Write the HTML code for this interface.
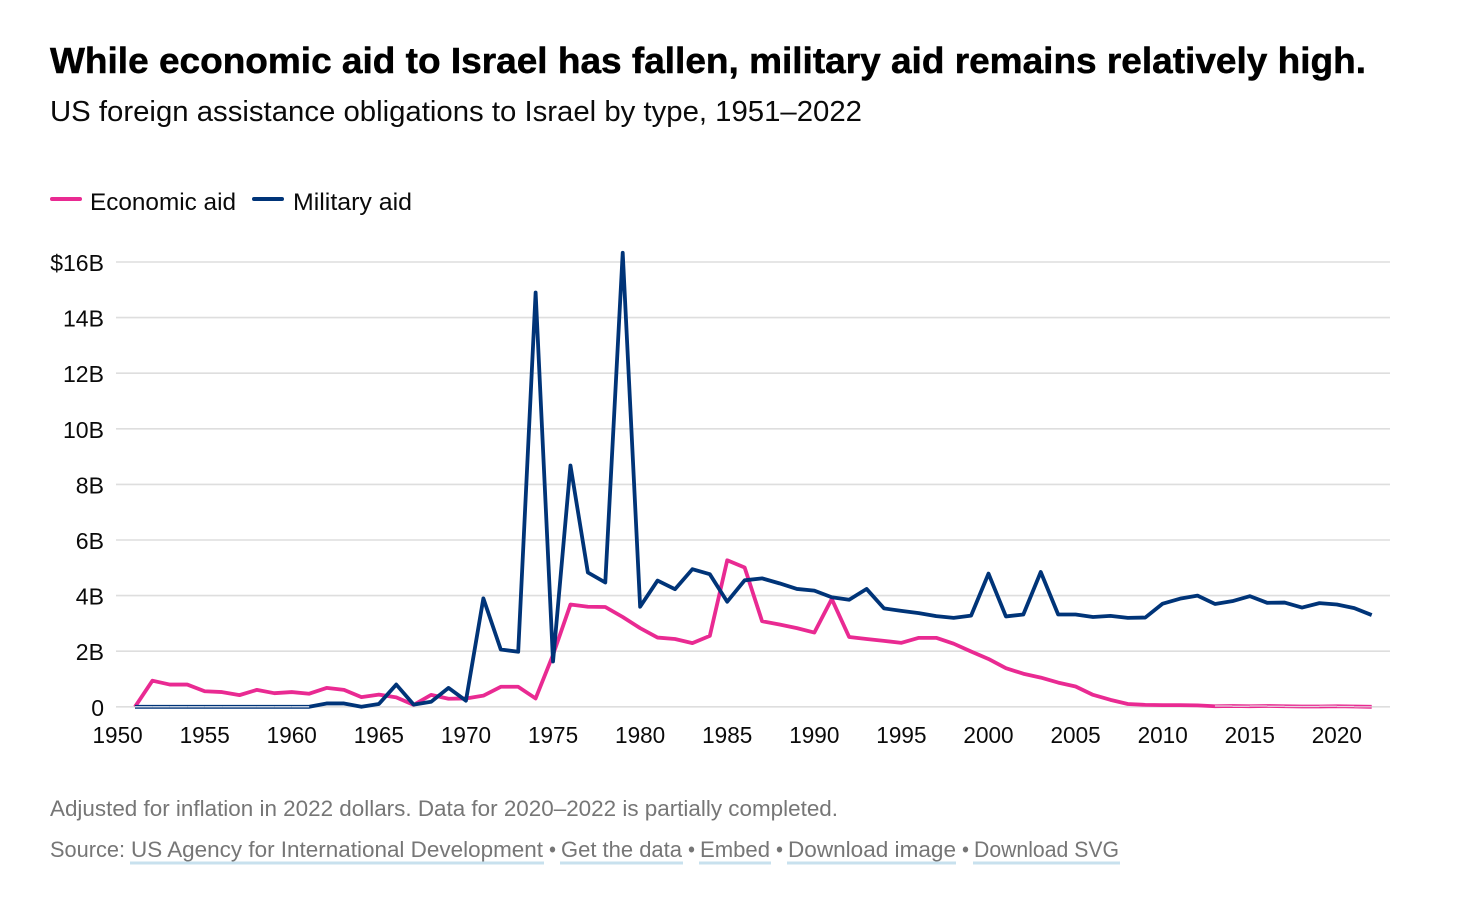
<!DOCTYPE html>
<html lang="en">
<head>
<meta charset="utf-8">
<title>US foreign assistance obligations to Israel by type</title>
<style>
  html, body { margin: 0; padding: 0; background: #fff; width: 1458px; height: 900px; overflow: hidden; }
  svg { display: block; }
  text { font-family: "Liberation Sans", sans-serif; fill: #0a0a0a; }
  .title { font-weight: 700; font-size: 36px; fill: #000; stroke: #000; stroke-width: 0.5px; }
  .subtitle { font-size: 29px; }
  .legend-label { font-size: 24px; }
  .tick { font-size: 23.5px; }
  .foot { font-size: 22.5px; fill: #767676; }
  .grid { stroke: #dedede; stroke-width: 1.6; }
  .under { fill: #c8e1ee; }
  .line { fill: none; stroke-width: 3.8; stroke-linejoin: round; stroke-linecap: butt; }
</style>
</head>
<body>
<svg id="chart" width="1458" height="900" viewBox="0 0 1458 900" xmlns="http://www.w3.org/2000/svg">
  <text class="title" x="50" y="73" textLength="1316" lengthAdjust="spacingAndGlyphs">While economic aid to Israel has fallen, military aid remains relatively high.</text>
  <text class="subtitle" x="50" y="121" textLength="812" lengthAdjust="spacingAndGlyphs">US foreign assistance obligations to Israel by type, 1951–2022</text>

  <g>
    <line x1="52" x2="80" y1="199" y2="199" stroke="#e92a92" stroke-width="4" stroke-linecap="round"/>
    <text class="legend-label" x="90" y="210" textLength="146" lengthAdjust="spacingAndGlyphs">Economic aid</text>
    <line x1="254" x2="282" y1="199" y2="199" stroke="#003478" stroke-width="4" stroke-linecap="round"/>
    <text class="legend-label" x="293" y="210" textLength="119" lengthAdjust="spacingAndGlyphs">Military aid</text>
  </g>

  <g id="grid-layer"></g>
  <g id="ylabel-layer"></g>
  <g id="xlabel-layer"></g>
  <g id="series-layer"></g>

  <text class="foot" x="50" y="816" textLength="788" lengthAdjust="spacingAndGlyphs">Adjusted for inflation in 2022 dollars. Data for 2020–2022 is partially completed.</text>

  <g>
    <text class="foot" x="50" y="857" textLength="75" lengthAdjust="spacingAndGlyphs">Source:</text>
    <rect class="under" x="130" y="861.5" width="414" height="3"/>
    <text class="foot" x="131" y="857" textLength="412" lengthAdjust="spacingAndGlyphs">US Agency for International Development</text>
    <text class="foot" x="549" y="857" textLength="7" lengthAdjust="spacingAndGlyphs">•</text>
    <rect class="under" x="560" y="861.5" width="123" height="3"/>
    <text class="foot" x="561" y="857" textLength="121" lengthAdjust="spacingAndGlyphs">Get the data</text>
    <text class="foot" x="688" y="857" textLength="7" lengthAdjust="spacingAndGlyphs">•</text>
    <rect class="under" x="699" y="861.5" width="72" height="3"/>
    <text class="foot" x="700" y="857" textLength="70" lengthAdjust="spacingAndGlyphs">Embed</text>
    <text class="foot" x="776" y="857" textLength="7" lengthAdjust="spacingAndGlyphs">•</text>
    <rect class="under" x="787" y="861.5" width="169" height="3"/>
    <text class="foot" x="788" y="857" textLength="168" lengthAdjust="spacingAndGlyphs">Download image</text>
    <text class="foot" x="962" y="857" textLength="7" lengthAdjust="spacingAndGlyphs">•</text>
    <rect class="under" x="973" y="861.5" width="147" height="3"/>
    <text class="foot" x="974" y="857" textLength="145" lengthAdjust="spacingAndGlyphs">Download SVG</text>
  </g>
</svg>

<script>
const years = [1951,1952,1953,1954,1955,1956,1957,1958,1959,1960,1961,1962,1963,1964,1965,1966,1967,1968,1969,1970,1971,1972,1973,1974,1975,1976,1977,1978,1979,1980,1981,1982,1983,1984,1985,1986,1987,1988,1989,1990,1991,1992,1993,1994,1995,1996,1997,1998,1999,2000,2001,2002,2003,2004,2005,2006,2007,2008,2009,2010,2011,2012,2013,2014,2015,2016,2017,2018,2019,2020,2021,2022];
const economicAid = [0,0.94,0.80,0.80,0.56,0.53,0.42,0.61,0.49,0.53,0.47,0.68,0.61,0.35,0.44,0.34,0.07,0.43,0.29,0.30,0.40,0.72,0.72,0.30,1.87,3.68,3.60,3.59,3.23,2.83,2.49,2.44,2.29,2.55,5.27,5.01,3.08,2.96,2.83,2.67,3.88,2.51,2.44,2.37,2.30,2.48,2.48,2.27,1.99,1.72,1.39,1.19,1.05,0.87,0.73,0.43,0.25,0.10,0.07,0.06,0.06,0.05,0.02,0.03,0.02,0.03,0.02,0.01,0.01,0.02,0.01,0];
const militaryAid = [0,0,0,0,0,0,0,0,0,0,0,0.12,0.12,0,0.10,0.80,0.08,0.18,0.68,0.22,3.90,2.06,1.98,14.9,1.63,8.68,4.83,4.47,16.33,3.60,4.54,4.23,4.95,4.77,3.78,4.55,4.62,4.44,4.24,4.18,3.94,3.85,4.24,3.54,3.45,3.37,3.26,3.20,3.28,4.79,3.25,3.32,4.85,3.32,3.32,3.23,3.27,3.20,3.21,3.71,3.89,4.00,3.70,3.80,3.98,3.74,3.75,3.57,3.73,3.68,3.55,3.30];
const yTicks = [0,2,4,6,8,10,12,14,16];
const yTickLabels = ["0","2B","4B","6B","8B","10B","12B","14B","$16B"];
const xTicks = [1950,1955,1960,1965,1970,1975,1980,1985,1990,1995,2000,2005,2010,2015,2020];

const NS = "http://www.w3.org/2000/svg";
function xScale(year) { return 135 + (year - 1951) * (1371.7 - 135) / 71; }
function yScale(v) { return 706.8 - v * 27.8; }

function fit(el, ratio) {
  const w = el.getComputedTextLength();
  el.setAttribute('textLength', (w * ratio).toFixed(1));
  el.setAttribute('lengthAdjust', 'spacingAndGlyphs');
}

const gridLayer = document.getElementById('grid-layer');
const ylabelLayer = document.getElementById('ylabel-layer');
const xlabelLayer = document.getElementById('xlabel-layer');
const seriesLayer = document.getElementById('series-layer');

yTicks.forEach(function (t, i) {
  const g = document.createElementNS(NS, 'line');
  g.setAttribute('class', 'grid');
  g.setAttribute('x1', 116);
  g.setAttribute('x2', 1390);
  g.setAttribute('y1', yScale(t));
  g.setAttribute('y2', yScale(t));
  
  
  gridLayer.appendChild(g);

  const l = document.createElementNS(NS, 'text');
  l.setAttribute('class', 'tick');
  l.setAttribute('text-anchor', 'end');
  l.setAttribute('x', 104);
  l.setAttribute('y', yScale(t) + 9);
  l.textContent = yTickLabels[i];
  
  
  ylabelLayer.appendChild(l);
  fit(l, 0.98);
});

xTicks.forEach(function (t) {
  const l = document.createElementNS(NS, 'text');
  l.setAttribute('class', 'tick');
  l.setAttribute('text-anchor', 'middle');
  l.setAttribute('x', xScale(t));
  l.setAttribute('y', 743);
  l.textContent = String(t);
  
  
  xlabelLayer.appendChild(l);
  fit(l, 0.96);
});

function drawSeries(values, color) {
  const d = values.map(function (v, i) {
    return (i ? 'L' : 'M') + xScale(years[i]).toFixed(2) + ' ' + yScale(v).toFixed(2);
  }).join('');
  const p = document.createElementNS(NS, 'path');
  p.setAttribute('class', 'line');
  p.setAttribute('d', d);
  p.setAttribute('stroke', color);
  return p;
}

/* Flat near-zero runs render split along the baseline in the reference. */
function drawBaselineSplit(values, color) {
  for (let i = 1; i < values.length; i++) {
    if (values[i] < 0.035 && values[i - 1] < 0.035) {
      const s = document.createElementNS(NS, 'line');
      s.setAttribute('x1', xScale(years[i - 1]));
      s.setAttribute('x2', xScale(years[i]));
      s.setAttribute('y1', yScale(values[i]));
      s.setAttribute('y2', yScale(values[i]));
      s.setAttribute('stroke', color);
      s.setAttribute('stroke-width', 1.2);
      
      
      seriesLayer.appendChild(s);
    }
  }
}

const econPath = drawSeries(economicAid, '#e92a92');


seriesLayer.appendChild(econPath);
drawBaselineSplit(economicAid, '#e6d8df');

const milPath = drawSeries(militaryAid, '#003478');


seriesLayer.appendChild(milPath);
drawBaselineSplit(militaryAid, '#ffffff');
</script>
</body>
</html>
